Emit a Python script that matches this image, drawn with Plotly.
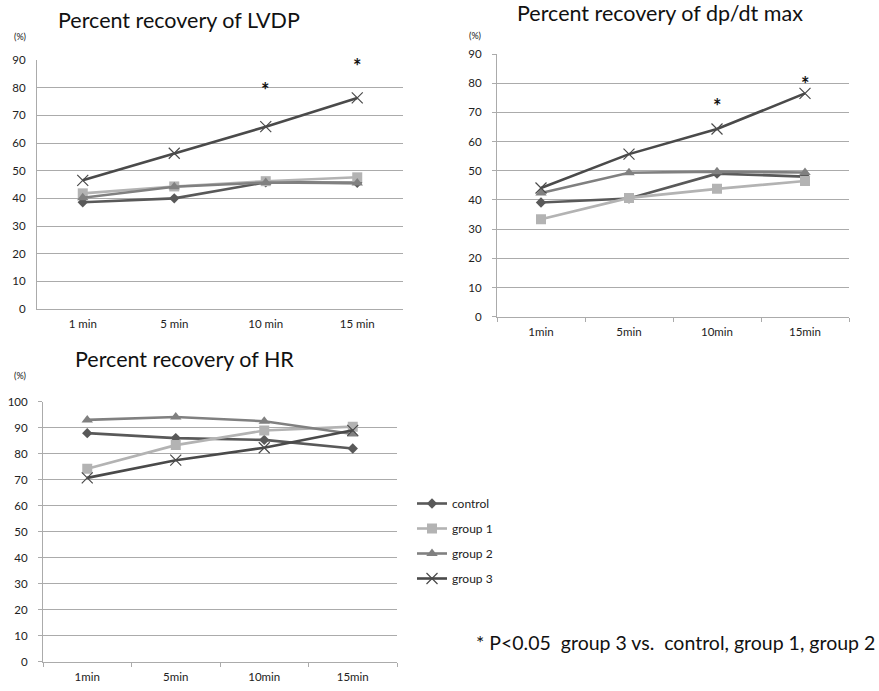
import plotly.graph_objects as go

W, H = 879, 691
OFF = 0  # body margin removed via post_script

cats_a = ["1 min", "5 min", "10 min", "15 min"]
cats_b = ["1min", "5min", "10min", "15min"]

series_names = ["control", "group 1", "group 2", "group 3"]

lvdp_control = [38.6, 40.0, 45.8, 45.6]
lvdp_group1 = [41.8, 44.3, 46.2, 47.6]
lvdp_group2 = [40.2, 44.2, 45.7, 45.5]
lvdp_group3 = [46.5, 56.3, 65.9, 76.3]

dpdt_control = [39.1, 40.5, 49.0, 48.0]
dpdt_group1 = [33.4, 40.7, 43.8, 46.5]
dpdt_group2 = [42.4, 49.3, 49.7, 49.4]
dpdt_group3 = [44.1, 55.7, 64.3, 76.5]

hr_control = [87.9, 86.0, 85.3, 82.0]
hr_group1 = [74.2, 83.3, 88.9, 90.4]
hr_group2 = [93.0, 94.1, 92.5, 87.6]
hr_group3 = [70.7, 77.5, 82.3, 89.0]

lvdp_star_y = [81, 89.5]
dpdt_star_y = [74, 81.3]

colors = ["#595959", "#b3b3b3", "#808080", "#4a4a4a"]
symbols = ["diamond", "square", "triangle-up", "x-thin"]
msizes = [8, 10, 10, 11]

FONT = "Lato"

def px_x(p):
    return (p - OFF) / W

def px_y(p):
    return 1 - (p - OFF) / H

fig = go.Figure()

panels = [
    ("x", "y", cats_a, [lvdp_control, lvdp_group1, lvdp_group2, lvdp_group3]),
    ("x2", "y2", cats_b, [dpdt_control, dpdt_group1, dpdt_group2, dpdt_group3]),
    ("x3", "y3", cats_b, [hr_control, hr_group1, hr_group2, hr_group3]),
]

for pi, (xa, ya, cats, data) in enumerate(panels):
    for si, vals in enumerate(data):
        marker = dict(symbol=symbols[si], size=msizes[si], color=colors[si])
        if symbols[si] == "x-thin":
            marker["line"] = dict(color=colors[si], width=1.2)
        fig.add_trace(go.Scatter(
            x=cats, y=vals, xaxis=xa, yaxis=ya,
            mode="lines+markers", name=series_names[si],
            line=dict(color=colors[si], width=2.6),
            marker=marker,
            showlegend=(pi == 0), legendgroup=series_names[si],
        ))

grid = "#ababab"
tickfont = dict(family=FONT, size=11.5, color="#222222")

def yaxis(dom, top, ticks, anchor):
    return dict(domain=dom, anchor=anchor, range=[0, top], dtick=10, showgrid=True,
                gridcolor=grid, gridwidth=1, showline=True, linecolor=grid,
                linewidth=1, ticks=ticks, ticklen=4, tickcolor=grid,
                tickfont=tickfont, zeroline=False, fixedrange=True,
                ticklabelstandoff=8, automargin=False)

def xaxis(dom, anchor, ticks):
    return dict(domain=dom, anchor=anchor, type="category", range=[-0.5, 3.5],
                showgrid=False, showline=True, linecolor=grid, linewidth=1,
                ticks=ticks, tickson="boundaries", ticklen=4, tickcolor=grid,
                tickfont=tickfont, zeroline=False, fixedrange=True,
                ticklabelstandoff=4, automargin=False)

fig.update_layout(
    width=W, height=H,
    margin=dict(l=0, r=0, t=0, b=0, autoexpand=False),
    paper_bgcolor="white", plot_bgcolor="white",
    font=dict(family=FONT, color="#222222"),
    hovermode=False,
    xaxis=xaxis([px_x(37), px_x(403)], "y", ""),
    yaxis=yaxis([px_y(309), px_y(60)], 90, "", "x"),
    xaxis2=xaxis([px_x(497), px_x(849)], "y2", "outside"),
    yaxis2=yaxis([px_y(316.7), px_y(54)], 90, "outside", "x2"),
    xaxis3=xaxis([px_x(43), px_x(397)], "y3", "outside"),
    yaxis3=yaxis([px_y(661.7), px_y(401.7)], 100, "outside", "x3"),
    legend=dict(x=px_x(412), y=px_y(489), xanchor="left", yanchor="top",
                font=dict(family=FONT, size=12, color="#222222"),
                tracegroupgap=6, bgcolor="rgba(0,0,0,0)", itemwidth=30),
    showlegend=True,
)

ann = []
def text(x, y, s, size, xanchor="center"):
    ann.append(dict(x=px_x(x), y=px_y(y), xref="paper", yref="paper", text=s,
                    showarrow=False, xanchor=xanchor, yanchor="middle",
                    font=dict(family=FONT, size=size, color="#111111")))

text(179, 20, "Percent recovery of LVDP", 21.5)
text(660, 13, "Percent recovery of dp/dt max", 21.5)
text(184, 359, "Percent recovery of HR", 21.5)
text(20, 37, "(%)", 9)
text(475, 35, "(%)", 9)
text(20, 375, "(%)", 9)
text(474, 642, "* P<0.05  group 3 vs.  control, group 1, group 2", 19.5, "left")

for (xa, ya, cats, ys) in [("x", "y", cats_a, lvdp_star_y), ("x2", "y2", cats_b, dpdt_star_y)]:
    for ci, yv in zip([2, 3], ys):
        ann.append(dict(x=cats[ci], y=yv, xref=xa, yref=ya, text="<b>*</b>", showarrow=False,
                        xanchor="center", yanchor="middle", yshift=-5,
                        font=dict(family=FONT, size=20, color="#111111")))

fig.update_layout(annotations=ann)

fig.write_html("out.html", config={"displayModeBar": False},
               post_script="document.body.style.margin='0px';")
